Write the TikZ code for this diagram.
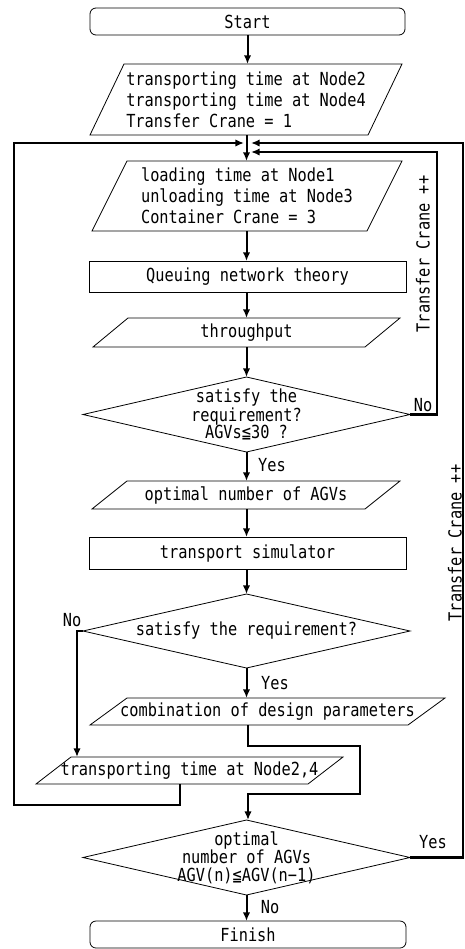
\documentclass[tikz,border=0pt]{standalone}
\usepackage{fontspec}
\newfontfamily\jfont{DejaVu Sans Mono}[FakeStretch=0.85]
\usetikzlibrary{arrows.meta,calc}
\newcommand\drawpara[2]{\draw[thinline] ($(#1.north west)+(#2,0)$) -- (#1.north east) -- ($(#1.south east)-(#2,0)$) -- (#1.south west) -- cycle;}
\newcommand\drawdiam[1]{\draw[thinline] (#1.north) -- (#1.east) -- (#1.south) -- (#1.west) -- cycle;}
\begin{document}
\begin{tikzpicture}[x=0.75pt,y=-0.75pt,
  base/.style={font=\jfont\fontsize{13.5}{15.75}\selectfont, inner sep=0pt, outer sep=0pt},
  thinline/.style={line width=0.6pt},
  rbox/.style={base, draw, thinline, rounded corners=4.5pt, minimum height=20.25pt},
  sbox/.style={base, draw, thinline},
  pbox/.style={base},
  dbox/.style={base, align=center, minimum width=245.25pt},
  lbl/.style={base},
  conn/.style={line width=1.5pt, -{Latex[length=6.5pt,width=5.5pt]}},
  loop/.style={line width=2pt, -{Latex[length=6.5pt,width=5.5pt]}},
  plainl/.style={line width=1.5pt}
]
\useasboundingbox (0,0) rectangle (464,949);

\node[rbox, minimum width=236.25pt] (start) at (247.5,21.5) {Start};
\node[pbox, align=left, minimum width=234pt, minimum height=53.25pt] (p1) at (246,99.5)
  {transporting time at Node2\\transporting time at Node4\\Transfer Crane = 1};
\drawpara{p1}{34}
\node[pbox, align=left, minimum width=232.5pt, minimum height=52.5pt] (p2) at (247,196)
  {loading time at Node1\\unloading time at Node3\\Container Crane = 3};
\drawpara{p2}{35}
\node[sbox, minimum width=237.75pt, minimum height=23.25pt] (q) at (247.5,276.5) {Queuing network theory};
\node[pbox, minimum width=230.25pt, minimum height=21.75pt] (tp) at (246.5,332.5) {throughput};
\drawpara{tp}{35}
\node[dbox, minimum height=56.25pt, font=\jfont\fontsize{13.5}{13}\selectfont] (d1) at (246.5,414.5)
  {satisfy the\\requirement?\\AGVs≦30 ?};
\drawdiam{d1}
\node[pbox, minimum width=231pt, minimum height=21pt] (p3) at (246,495) {optimal number of AGVs};
\drawpara{p3}{35}
\node[sbox, minimum width=237.75pt, minimum height=24pt] (ts) at (247.5,553) {transport simulator};
\node[dbox, minimum height=55.5pt] (d2) at (246.5,631) {satisfy the requirement?};
\drawdiam{d2}
\node[pbox, minimum width=266.25pt, minimum height=20.25pt] (p4) at (267.5,711.5) {combination of design parameters};
\drawpara{p4}{37}
\node[pbox, minimum width=230.25pt, minimum height=20.25pt] (p5) at (189.5,770.5) {transporting time at Node2,4};
\drawpara{p5}{35}
\node[dbox, minimum height=56.25pt, font=\jfont\fontsize{13.5}{13}\selectfont] (d3) at (246.5,857.5)
  {\raisebox{4.5pt}{\parbox{140pt}{\centering optimal\\number of AGVs\\AGV(n)≦AGV(n−1)}}};
\drawdiam{d3}
\node[rbox, minimum width=237pt] (fin) at (248,934.5) {Finish};

% main flow
\draw[conn] (start.south) -- (p1.north -| start.south);
\draw[conn] (p1.south -| d1.north) -- (p2.north -| d1.north);
\draw[conn] (p2.south -| d1.north) -- (q.north -| d1.north);
\draw[conn] (q.south -| d1.north) -- (tp.north -| d1.north);
\draw[conn] (tp.south -| d1.north) -- (d1.north);
\draw[conn] (d1.south) -- (p3.north -| d1.south);
\draw[conn] (p3.south -| d1.south) -- (ts.north -| d1.south);
\draw[conn] (ts.south -| d1.south) -- (d2.north);
\draw[conn] (d2.south) -- (p4.north -| d2.south);
\draw[conn] (d3.south) -- (fin.north -| d3.south);

% combination -> diamond3
\coordinate (c1) at (248,746);
\coordinate (c2) at (360,746);
\coordinate (c3) at (360,794);
\coordinate (c4) at (248,794);
\draw[conn, rounded corners=0pt] (p4.south -| c1) -- (c1) -- (c2) -- (c3) -- (c4) -- (d3.north -| c4);

% diamond2 No -> p5
\coordinate (n1) at (77,631);
\draw[conn] (d2.west) -- (n1) -- (p5.north -| n1);

% left loop
\coordinate (l0) at (180,784);
\coordinate (l1) at (180,805);
\coordinate (l2) at (14,805);
\coordinate (l3) at (14,143);
\coordinate (l4) at (244,143);
\draw[loop] (l0) -- (l1) -- (l2) -- (l3) -- (l4);

% diamond1 No loop
\coordinate (r1) at (437,414.5);
\coordinate (r2) at (437,152);
\coordinate (r3) at (251,152);
\draw[loop] (d1.east) -- (r1) -- (r2) -- (r3);

% diamond3 Yes loop
\coordinate (o1) at (463,857.5);
\coordinate (o2) at (463,143);
\coordinate (o3) at (251,143);
\draw[loop] (d3.east) -- (o1) -- (o2) -- (o3);

% labels
\node[lbl] (lno1) at (423,405) {No};
\node[lbl] (lyes1) at (272,465) {Yes};
\node[lbl] (lno2) at (72,620) {No};
\node[lbl] (lyes2) at (275,683) {Yes};
\node[lbl] (lyes3) at (433,842) {Yes};
\node[lbl] (lno3) at (270,907) {No};
\node[lbl, rotate=90] (tc1) at (423,254) {Transfer Crane ++};
\node[lbl, rotate=90] (tc2) at (455,543) {Transfer Crane ++};
\end{tikzpicture}
\end{document}
